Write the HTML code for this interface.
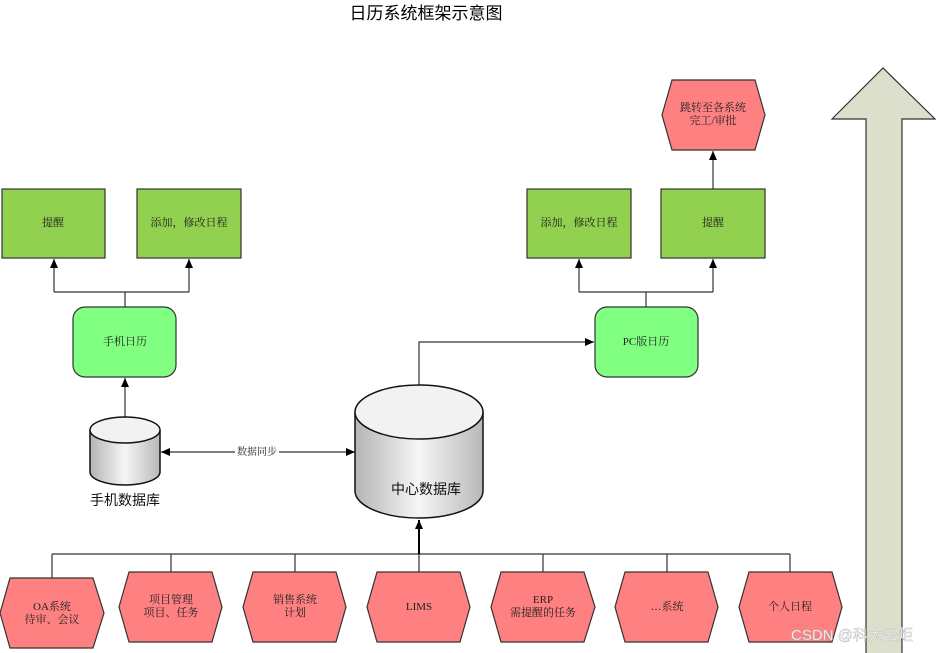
<!DOCTYPE html>
<html><head><meta charset="utf-8"><style>
html,body{margin:0;padding:0;background:#fff;width:936px;height:653px;overflow:hidden}
svg text{font-family:"Liberation Serif","Noto Serif CJK SC","Noto Sans CJK SC",serif;font-size:11px;fill:#222;text-anchor:middle}
</style></head><body>
<svg width="936" height="653" viewBox="0 0 936 653" xmlns="http://www.w3.org/2000/svg">
<defs>
<marker id="a" markerWidth="10" markerHeight="10" refX="9" refY="5" orient="auto" markerUnits="userSpaceOnUse"><path d="M0,1 L9,5 L0,9 z" fill="#000"/></marker>
<linearGradient id="cg" x1="0" x2="1"><stop offset="0" stop-color="#b4b4b4"/><stop offset="0.5" stop-color="#f6f6f6"/><stop offset="1" stop-color="#b8b8b8"/></linearGradient>
</defs>
<text x="426" y="19" style="font-family:'Liberation Sans','Noto Sans CJK SC',sans-serif;font-size:17px;fill:#000">日历系统框架示意图</text>

<path d="M866,653 L866,119 L832,119 L883,68 L935,119 L902,119 L902,653" fill="#dcdfcc" stroke="#333" stroke-width="1.2"/>

<g stroke="#333" stroke-width="1.2" fill="none">
<path d="M52,554 L790,554"/>
<path d="M52,554 V578 M171,554 V572 M295,554 V572 M543,554 V572 M667,554 V572 M790,554 V572"/>
<path d="M419,572 V554" />
<path d="M419,554 V520" stroke="#000" stroke-width="2" marker-end="url(#a)"/>
<path d="M230,452 L355,452" marker-end="url(#a)"/>
<path d="M230,452 L161,452" marker-end="url(#a)"/>
<path d="M125,417 V378" marker-end="url(#a)"/>
<path d="M125,307 V292 M54,292 H189"/>
<path d="M54,292 V259" marker-end="url(#a)"/>
<path d="M189,292 V259" marker-end="url(#a)"/>
<path d="M419,385 V342 H594" marker-end="url(#a)"/>
<path d="M646,307 V292 M579,292 H713"/>
<path d="M579,292 V259" marker-end="url(#a)"/>
<path d="M713,292 V259" marker-end="url(#a)"/>
<path d="M713,189 V151" marker-end="url(#a)"/>
</g>
<rect x="235" y="445" width="44" height="14" fill="#fff"/>
<text x="257" y="455" style="font-size:10px">数据同步</text>

<g fill="#92d050" stroke="#333" stroke-width="1.2">
<rect x="2" y="189" width="103" height="69"/>
<rect x="137" y="189" width="104" height="69"/>
<rect x="527" y="189" width="104" height="69"/>
<rect x="661" y="189" width="104" height="69"/>
</g>
<text x="53" y="226">提醒</text>
<text x="189" y="226">添加，修改日程</text>
<text x="579" y="226">添加，修改日程</text>
<text x="713" y="226">提醒</text>

<g fill="#80ff80" stroke="#333" stroke-width="1.2">
<rect x="73" y="307" width="103" height="70" rx="12"/>
<rect x="595" y="307" width="103" height="70" rx="12"/>
</g>
<text x="125" y="345">手机日历</text>
<text x="646" y="345">PC版日历</text>

<g stroke="#111" stroke-width="1.5">
<path d="M90,430 V472 A35,13 0 0 0 160,472 V430" fill="url(#cg)"/>
<ellipse cx="125" cy="430" rx="35" ry="13" fill="#f2f2f2"/>
<path d="M355,412 V491 A64,27 0 0 0 483,491 V412" fill="url(#cg)"/>
<ellipse cx="419" cy="412" rx="64" ry="27" fill="#f2f2f2"/>
</g>
<text x="125" y="505" style="font-family:'Liberation Sans','Noto Sans CJK SC',sans-serif;font-size:14px;fill:#111">手机数据库</text>
<text x="426" y="494" style="font-family:'Liberation Sans','Noto Sans CJK SC',sans-serif;font-size:14px;fill:#111">中心数据库</text>

<g fill="#ff8080" stroke="#333" stroke-width="1.2">
<path d="M10,578 H93 L104,613 L93,648 H10 L0,613 Z"/>
<path d="M129,572 H212 L222,607 L212,642 H129 L119,607 Z"/>
<path d="M253,572 H336 L346,607 L336,642 H253 L243,607 Z"/>
<path d="M377,572 H460 L470,607 L460,642 H377 L367,607 Z"/>
<path d="M501,572 H584 L595,607 L584,642 H501 L491,607 Z"/>
<path d="M625,572 H708 L718,607 L708,642 H625 L615,607 Z"/>
<path d="M749,572 H832 L842,607 L832,642 H749 L739,607 Z"/>
<path d="M672,80 H755 L765,115 L755,150 H672 L662,115 Z"/>
</g>
<text x="52" y="610">OA系统</text><text x="52" y="623">待审、会议</text>
<text x="171" y="603">项目管理</text><text x="171" y="616">项目、任务</text>
<text x="295" y="603">销售系统</text><text x="295" y="616">计划</text>
<text x="419" y="610">LIMS</text>
<text x="543" y="603">ERP</text><text x="543" y="616">需提醒的任务</text>
<text x="667" y="610">…系统</text>
<text x="790" y="610">个人日程</text>
<text x="713" y="111">跳转至各系统</text><text x="713" y="124">完工/审批</text>

<text x="852" y="640" style="font-family:'Liberation Sans','Noto Sans CJK SC',sans-serif;font-size:15px;fill:#fff;stroke:#bbb;stroke-width:0.5">CSDN @科大云炬</text>
</svg>
</body></html>
